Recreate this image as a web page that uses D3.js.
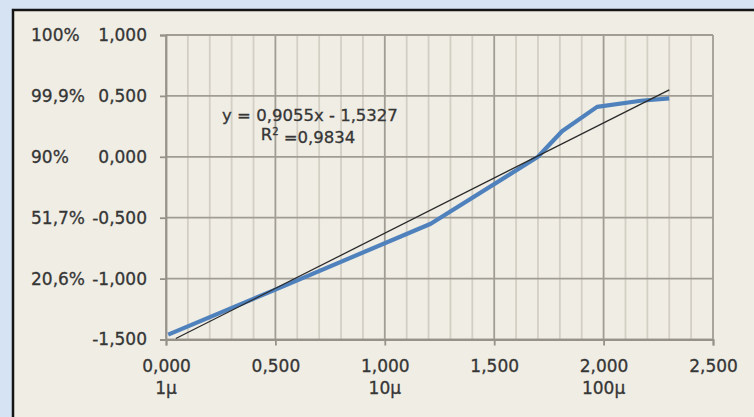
<!DOCTYPE html>
<html>
<head>
<meta charset="utf-8">
<script src="https://cdn.jsdelivr.net/npm/d3@7/dist/d3.min.js"></script>
<style>
  body { margin: 0; background: #d5e3f3; }
  svg { display: block; }
  text { font-family: "DejaVu Sans", sans-serif; fill: #363636; stroke: #363636; stroke-width: 0.3px; }
</style>
</head>
<body>
<svg id="chart" width="754" height="417"></svg>
<script>
// measured points (x = log value, y = probit value)
var xVals = [0.01, 0.50, 1.21, 1.70, 1.81, 1.97, 2.17, 2.30];
var yVals = [-1.46, -1.09, -0.55, 0.00, 0.21, 0.41, 0.46, 0.48];

// linear trend from the chart
var slope = 0.9055, intercept = -1.5327, r2 = 0.9834;

var yTicks = [-1.5, -1.0, -0.5, 0.0, 0.5, 1.0];
var pctLabels = ["", "20,6%", "51,7%", "90%", "99,9%", "100%"];
var xTicks = [0, 0.5, 1.0, 1.5, 2.0, 2.5];
var muTicks = [0, 1, 2];
var muLabels = ["1\u00b5", "10\u00b5", "100\u00b5"];

var svg = d3.select("#chart");

// panel
svg.append("rect")
  .attr("x", 13).attr("y", 10)
  .attr("width", 760).attr("height", 430)
  .attr("fill", "#efede4")
  .attr("stroke", "#151515").attr("stroke-width", 2.5);

var x = d3.scaleLinear().domain([0, 2.5]).range([166, 713]);
var y = d3.scaleLinear().domain([-1.5, 1.0]).range([339.5, 35]);

var loc = d3.formatLocale({decimal: ",", thousands: ".", grouping: [3], currency: ["", ""], minus: "-"});
var fmt = loc.format(".3f");
var fmt4 = loc.format(".4f");

// minor vertical grid every 0.1
var minor = d3.range(0, 26).map(function(i) { return i / 10; });
svg.append("g").selectAll("line")
  .data(minor).enter().append("line")
  .attr("x1", function(d) { return x(d); }).attr("x2", function(d) { return x(d); })
  .attr("y1", y(1)).attr("y2", y(-1.5))
  .attr("stroke", function(d, i) { return i % 5 === 0 ? "#a19d95" : "#d3cfc5"; })
  .attr("stroke-width", 1.8);

// horizontal grid
svg.append("g").selectAll("line")
  .data(yTicks).enter().append("line")
  .attr("x1", x(0)).attr("x2", x(2.5))
  .attr("y1", function(d) { return y(d); }).attr("y2", function(d) { return y(d); })
  .attr("stroke", "#a19d95").attr("stroke-width", 1.8);

// axes
var yAxis = svg.append("g")
  .attr("transform", "translate(" + x(0) + ",0)")
  .call(d3.axisLeft(y).tickValues(yTicks).tickFormat(fmt).tickSize(6).tickPadding(13));
var xAxis = svg.append("g")
  .attr("transform", "translate(0," + y(-1.5) + ")")
  .call(d3.axisBottom(x).tickValues(xTicks).tickFormat(fmt).tickSize(6).tickPadding(14));

[yAxis, xAxis].forEach(function(a) {
  a.select(".domain").attr("stroke", "#96928a").attr("stroke-width", 1.8);
  a.selectAll(".tick line").attr("stroke", "#96928a").attr("stroke-width", 1.8);
  a.selectAll("text").attr("fill", "#363636").style("font-size", "17px")
    .style("font-family", "DejaVu Sans, sans-serif");
});

// percent labels on the left
svg.append("g").selectAll("text")
  .data(yTicks).enter().append("text")
  .attr("x", 31)
  .attr("y", function(d) { return y(d); })
  .attr("dy", "0.35em")
  .style("font-size", "17px")
  .text(function(d, i) { return pctLabels[i]; });

// micro labels under x axis
svg.append("g").selectAll("text")
  .data(muTicks).enter().append("text")
  .attr("x", function(d) { return x(d); })
  .attr("y", 388)
  .attr("dy", "0.35em")
  .attr("text-anchor", "middle")
  .style("font-size", "17px")
  .text(function(d, i) { return muLabels[i]; });

// data line
var pts = xVals.map(function(d, i) { return [d, yVals[i]]; });
svg.append("path")
  .datum(pts)
  .attr("fill", "none")
  .attr("stroke", "#4f81bd")
  .attr("stroke-width", 4.2)
  .attr("stroke-linejoin", "round")
  .attr("d", d3.line().x(function(d) { return x(d[0]); }).y(function(d) { return y(d[1]); }));

// trend line
var tx = [0.045, d3.max(xVals)];
svg.append("line")
  .attr("x1", x(tx[0])).attr("y1", y(slope * tx[0] + intercept))
  .attr("x2", x(tx[1])).attr("y2", y(slope * tx[1] + intercept))
  .attr("stroke", "#2a2a2a").attr("stroke-width", 1.3);

// equation label
svg.append("text")
  .attr("x", 310).attr("y", 115).attr("dy", "0.35em")
  .attr("text-anchor", "middle")
  .style("font-size", "16.5px")
  .text("y = " + fmt4(slope) + "x - " + fmt4(-intercept));

var rt = svg.append("text")
  .attr("x", 308).attr("y", 134).attr("dy", "0.35em")
  .attr("text-anchor", "middle")
  .style("font-size", "16.5px");
rt.append("tspan").text("R");
rt.append("tspan").attr("dy", "-0.45em").style("font-size", "10px").text("2");
rt.append("tspan").attr("dy", "0.45em").text(" =" + fmt4(r2));
</script>
</body>
</html>
